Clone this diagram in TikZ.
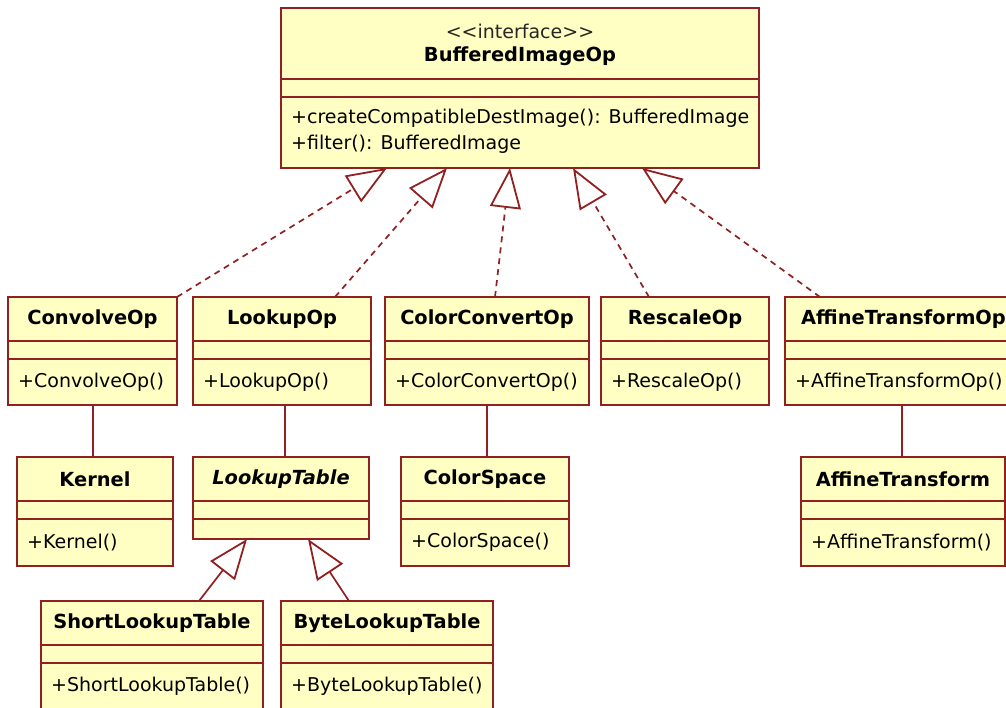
\documentclass[tikz,border=0pt]{standalone}
\usepackage{fontspec}
\newfontfamily\umlfont{DejaVu Sans}
\usetikzlibrary{arrows.meta}
\definecolor{umlred}{RGB}{145,32,32}
\definecolor{umlfill}{RGB}{255,255,196}
\tikzset{
  clsbox/.style={rectangle, draw=umlred, fill=umlfill, line width=2.2pt, inner sep=0pt, outer sep=0pt},
  clsline/.style={draw=umlred, line width=2.2pt},
  titletxt/.style={font=\umlfont\fontsize{19.4}{23}\selectfont\bfseries, inner sep=0pt, text=black},
  italtitle/.style={font=\umlfont\fontsize{19.4}{23}\selectfont\bfseries\itshape, inner sep=0pt, text=black},
  stereotxt/.style={font=\umlfont\fontsize{19}{23}\selectfont, inner sep=0pt, text=black!85},
  methtxt/.style={font=\umlfont\fontsize{19}{23}\selectfont, inner sep=0pt, anchor=west, text=black},
  realize/.style={draw=umlred, line width=1.7pt, dash pattern=on 6pt off 5pt,
    -{Triangle[open, length=40pt, width=31pt, line width=1.8pt]}},
  generalize/.style={draw=umlred, line width=1.7pt,
    -{Triangle[open, length=40pt, width=31pt, line width=1.8pt]}},
  assoc/.style={draw=umlred, line width=2.2pt},
}
% #1 name, #2 x1, #3 top, #4 x2, #5 bottom, #6 title style, #7 title, #8 method
\newcommand\umlclass[8]{%
  \node[clsbox, minimum width={#4pt-#2pt}, minimum height={#5pt-#3pt}] (#1) at ({(#2+#4)/2},{(#3+#5)/2}) {};
  \draw[clsline] ({#2},{#3+44}) -- ({#4},{#3+44});
  \draw[clsline] ({#2},{#3+62}) -- ({#4},{#3+62});
  \node[#6] (#1-title) at ({(#2+#4)/2},{#3+22}) {#7};
  \if\relax\detokenize{#8}\relax\else
    \node[methtxt] (#1-meth) at ({#2+10},{(#3+62+#5)/2}) {#8};
  \fi
}
\begin{document}
\begin{tikzpicture}[x=1pt, y=-1pt]
  \fill[white] (0,0) rectangle (1006,707);
  \clip (0,0) rectangle (1006,707);

  % interface
  \node[clsbox, minimum width=478pt, minimum height=160pt] (bio) at (520,88) {};
  \draw[clsline] (281,79) -- (759,79);
  \draw[clsline] (281,97) -- (759,97);
  \node[stereotxt] (bio-stereo) at (520,31) {<\kern0pt<interface>\kern0pt>};
  \node[titletxt] (bio-title) at (520,56) {BufferedImageOp};
  \node[methtxt] (bio-m1) at (291,118) {+createCompatibleDestImage(): BufferedImage};
  \node[methtxt] (bio-m2) at (291,144) {+filter(): BufferedImage};

  % row 2
  \umlclass{conv}{8}{297}{177}{405}{titletxt}{ConvolveOp}{+ConvolveOp()}
  \umlclass{lop}{193}{297}{371}{405}{titletxt}{LookupOp}{+LookupOp()}
  \umlclass{cco}{385}{297}{589}{405}{titletxt}{ColorConvertOp}{+ColorConvertOp()}
  \umlclass{rso}{601}{297}{769}{405}{titletxt}{RescaleOp}{+RescaleOp()}
  \umlclass{ato}{785}{297}{1022}{405}{titletxt}{AffineTransformOp}{+AffineTransformOp()}

  % row 3
  \umlclass{ker}{17}{457}{173}{566}{titletxt}{Kernel}{+Kernel()}
  \umlclass{lt}{193}{457}{369}{539}{italtitle}{LookupTable}{}
  \umlclass{cs}{401}{457}{569}{566}{titletxt}{ColorSpace}{+ColorSpace()}
  \umlclass{at}{801}{457}{1005}{566}{titletxt}{AffineTransform}{+AffineTransform()}

  % row 4
  \umlclass{slt}{41}{601}{263}{710}{titletxt}{ShortLookupTable}{+ShortLookupTable()}
  \umlclass{blt}{281}{601}{493}{710}{titletxt}{ByteLookupTable}{+ByteLookupTable()}

  % realizations
  \draw[realize] (conv.north east) -- ([xshift=106pt]bio.south west);
  \draw[realize] ([xshift=142pt]lop.north west) -- ([xshift=166pt]bio.south west);
  \draw[realize] ([xshift=110pt]cco.north west) -- ([xshift=229pt]bio.south west);
  \draw[realize] ([xshift=48pt]rso.north west) -- ([xshift=292pt]bio.south west);
  \draw[realize] ([xshift=35pt]ato.north west) -- ([xshift=361pt]bio.south west);

  % generalizations
  \draw[generalize] ([xshift=158pt]slt.north west) -- ([xshift=54pt]lt.south west);
  \draw[generalize] ([xshift=68pt]blt.north west) -- ([xshift=115pt]lt.south west);

  % associations
  \draw[assoc] ([xshift=0.5pt]conv.south) -- ([xshift=0.5pt]conv.south |- ker.north);
  \draw[assoc] ([xshift=3pt]lop.south) -- ([xshift=3pt]lop.south |- lt.north);
  \draw[assoc] (cco.south) -- (cco.south |- cs.north);
  \draw[assoc] ([xshift=-1.5pt]ato.south) -- ([xshift=-1.5pt]ato.south |- at.north);
\end{tikzpicture}
\end{document}
